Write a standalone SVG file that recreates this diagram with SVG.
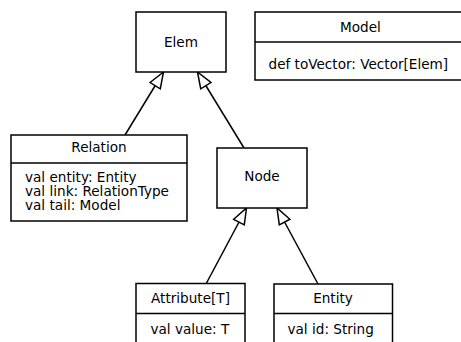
<svg xmlns="http://www.w3.org/2000/svg" width="461" height="342" viewBox="0 0 461 342">
<style>
.box{fill:#fff;stroke:#000;stroke-width:1.5}
.div{stroke:#000;stroke-width:1.5}
.t{font-family:"DejaVu Sans",sans-serif;font-size:13.6px;fill:#000}
.c{text-anchor:middle}
.edge{stroke:#000;stroke-width:1.5;fill:none;marker-end:url(#inh)}
</style>
<defs>
<marker id="inh" viewBox="-1 -1 18 14" refX="16" refY="6" markerWidth="18" markerHeight="14" markerUnits="userSpaceOnUse" orient="auto" overflow="visible">
<path d="M0,0 L16,6 L0,12 Z" fill="#fff" stroke="#000" stroke-width="1.5"/>
</marker>
</defs>
<g id="connectors">
<line class="edge" x1="125" y1="135" x2="163.5" y2="72"/>
<line class="edge" x1="244" y1="148" x2="197.5" y2="72"/>
<line class="edge" x1="206" y1="284" x2="246.5" y2="208"/>
<line class="edge" x1="318" y1="284" x2="277" y2="208"/>
</g>
<g id="Elem">
<rect class="box" x="136" y="12" width="90" height="60"/>
<text class="t c" x="181" y="46.5">Elem</text>
</g>
<g id="Model">
<rect class="box" x="255" y="12" width="211" height="68"/>
<line class="div" x1="255" y1="42" x2="466" y2="42"/>
<text class="t c" x="360.5" y="31.5">Model</text>
<text class="t" x="268.5" y="69">def toVector: Vector[Elem]</text>
</g>
<g id="Relation">
<rect class="box" x="11" y="135" width="176" height="86"/>
<line class="div" x1="11" y1="163" x2="187" y2="163"/>
<text class="t c" x="99" y="152">Relation</text>
<text class="t" x="25" y="182">val entity: Entity</text>
<text class="t" x="25" y="196">val link: RelationType</text>
<text class="t" x="25" y="210">val tail: Model</text>
</g>
<g id="Node">
<rect class="box" x="217" y="148" width="90" height="60"/>
<text class="t c" x="262" y="180.5">Node</text>
</g>
<g id="Attribute">
<rect class="box" x="136" y="283.5" width="109" height="70"/>
<line class="div" x1="136" y1="313.5" x2="245" y2="313.5"/>
<text class="t c" x="190.5" y="303">Attribute[T]</text>
<text class="t" x="150.5" y="334">val value: T</text>
</g>
<g id="Entity">
<rect class="box" x="274" y="284" width="118.5" height="70"/>
<line class="div" x1="274" y1="313.5" x2="392.5" y2="313.5"/>
<text class="t c" x="333" y="303">Entity</text>
<text class="t" x="287.5" y="334">val id: String</text>
</g>
</svg>
